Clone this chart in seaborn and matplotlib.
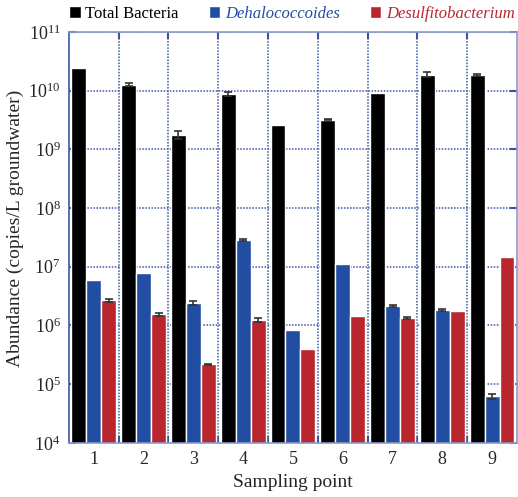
import numpy as np
import pandas as pd
import matplotlib
matplotlib.use("Agg")
import matplotlib.pyplot as plt
import seaborn as sns
from matplotlib.ticker import LogLocator, LogFormatterMathtext, FixedLocator, NullLocator

# ---- data ----
points = ["1", "2", "3", "4", "5", "6", "7", "8", "9"]
groups = ["Total Bacteria", "Dehalococcoides", "Desulfitobacterium"]
total_bacteria = [2.4e10, 1.25e10, 1.76e9, 8.8e9, 2.6e9, 3.2e9, 9.1e9, 1.85e10, 1.85e10]
dehalococcoides = [5.9e6, 7.8e6, 2.4e6, 2.86e7, 8.3e5, 1.1e7, 2.13e6, 1.82e6, 6.2e4]
desulfitobacterium = [2.7e6, 1.55e6, 2.17e5, 1.23e6, 3.9e5, 1.44e6, 1.33e6, 1.75e6, 1.47e7]
total_err = [0, 7.5e8, 2.6e8, 7e8, 0, 1e8, 0, 1.8e9, 5e8]
dhc_err = [0, 0, 2e5, 1.4e6, 0, 0, 6e4, 5e4, 6e3]
dsf_err = [1.6e5, 8e4, 7e3, 1e5, 0, 0, 4e4, 0, 0]

colors = ["#000000", "#214DA3", "#BA262E"]

sns.set_theme(style="white")
plt.rcParams["font.family"] = ["Liberation Serif", "DejaVu Serif"]
plt.rcParams["mathtext.fontset"] = "custom"
plt.rcParams["mathtext.rm"] = "Liberation Serif"
plt.rcParams["mathtext.it"] = "Liberation Serif:italic"

df = pd.DataFrame({
    "point": points * 3,
    "group": [groups[0]] * 9 + [groups[1]] * 9 + [groups[2]] * 9,
    "value": total_bacteria + dehalococcoides + desulfitobacterium,
})
errs = [total_err, dhc_err, dsf_err]

fig = plt.figure(figsize=(5.18, 4.97), dpi=100)
ax = fig.add_axes([0.133, 0.109, 0.865, 0.827])
ax.set_yscale("log")
sns.barplot(data=df, x="point", y="value", hue="group", palette=colors,
            errorbar=None, width=0.9, saturation=1, ax=ax, order=points,
            hue_order=groups)

for cont, err in zip(ax.containers, errs):
    for p, e in zip(cont.patches, err):
        if e > 0:
            xc = p.get_x() + p.get_width() / 2
            yt = p.get_y() + p.get_height()
            ax.errorbar(xc, yt, yerr=e, color="#333333", capsize=3,
                        elinewidth=1.2, capthick=1.2, zorder=5)

ax.set_ylim(1e4, 1e11)
ax.set_xlim(-0.5, 8.5)
ax.yaxis.set_major_locator(LogLocator(base=10, numticks=20))
ax.yaxis.set_major_formatter(LogFormatterMathtext())
ax.yaxis.set_minor_locator(NullLocator())
ax.xaxis.set_minor_locator(FixedLocator([0.5, 1.5, 2.5, 3.5, 4.5, 5.5, 6.5, 7.5]))

gridc = "#3A55A5"
ax.grid(True, which="major", axis="y", linestyle=(0, (1, 1)), color=gridc, lw=1.1)
ax.grid(True, which="minor", axis="x", linestyle=(0, (1, 1)), color=gridc, lw=1.1)
ax.set_axisbelow(True)

ax.tick_params(axis="y", which="major", direction="in", length=5, width=1.5,
               color=gridc, left=True, right=True, labelsize=13, pad=6)
ax.tick_params(axis="x", which="major", length=0, labelsize=13, pad=6)
ax.tick_params(axis="x", which="minor", direction="in", length=5, width=1.5,
               color=gridc, bottom=True, top=True)
for s in ax.spines.values():
    s.set_color("#8A9AC8")
    s.set_linewidth(1.2)
ax.spines["left"].set_color("#3A55A5")

ax.set_xlabel("Sampling point", fontsize=14, labelpad=4)
ax.set_ylabel("Abundance (copies/L groundwater)", fontsize=14)
ax.yaxis.set_label_coords(-0.10, 0.522)

handles, labels = ax.get_legend_handles_labels()
leg = ax.legend(handles, labels, loc="lower left", bbox_to_anchor=(0.0, 1.025),
                ncol=3, frameon=False, fontsize=12, handlelength=0.7,
                handleheight=0.7, handletextpad=0.28, columnspacing=1.8,
                borderaxespad=0, borderpad=0)
for t, c, st in zip(leg.get_texts(), colors, ["normal", "italic", "italic"]):
    t.set_color(c)
    t.set_fontstyle(st)

fig.savefig("out.png", dpi=100)
